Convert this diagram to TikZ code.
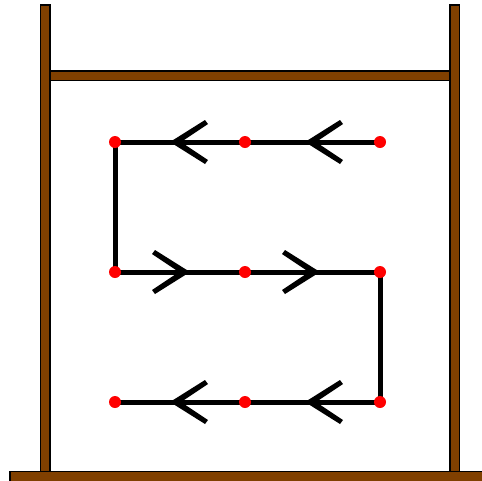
\documentclass[tikz,border=0pt]{standalone}
\usetikzlibrary{decorations.markings}
\definecolor{wood}{RGB}{128,64,0}
\begin{document}
\begin{tikzpicture}[x=1pt,y=-1pt,
  beam/.style={fill=wood,draw=black,line width=1.5pt},
  dot/.style={circle,fill=red,inner sep=0pt,minimum size=12pt},
  wire/.style={line width=5pt,line join=miter},
  barb/.style={postaction={decorate},decoration={markings,
    mark=at position 73pt with {\fill[black] (2,0) -- (-33,-22) -- (-36,-18) -- (-9,0) -- (-36,18) -- (-33,22) -- cycle;}}}]
\useasboundingbox (0,0) rectangle (482,480);
% frame
\draw[beam] (50,71) rectangle (450,80.5);
\draw[beam] (40.7,5) rectangle (50,471.5);
\draw[beam] (450,5) rectangle (459.3,471.5);
\draw[beam] (10,471.5) rectangle (484,483);
% points
\coordinate (a1) at (380,142);
\coordinate (a2) at (245,142);
\coordinate (a3) at (115,142);
\coordinate (b1) at (115,272);
\coordinate (b2) at (245,272);
\coordinate (b3) at (380,272);
\coordinate (c1) at (380,402);
\coordinate (c2) at (245,402);
\coordinate (c3) at (115,402);
% path
\draw[wire] (a1) -- (a2) -- (a3) -- (b1) -- (b2) -- (b3) -- (c1) -- (c2) -- (c3);
\path[barb] (a1) -- (a2);
\path[barb] (a2) -- (a3);
\path[barb] (b1) -- (b2);
\path[barb] (b2) -- (b3);
\path[barb] (c1) -- (c2);
\path[barb] (c2) -- (c3);
% dots
\foreach \p in {a1,a2,a3,b1,b2,b3,c1,c2,c3}
  \node[dot] (d\p) at (\p) {};
\end{tikzpicture}
\end{document}
